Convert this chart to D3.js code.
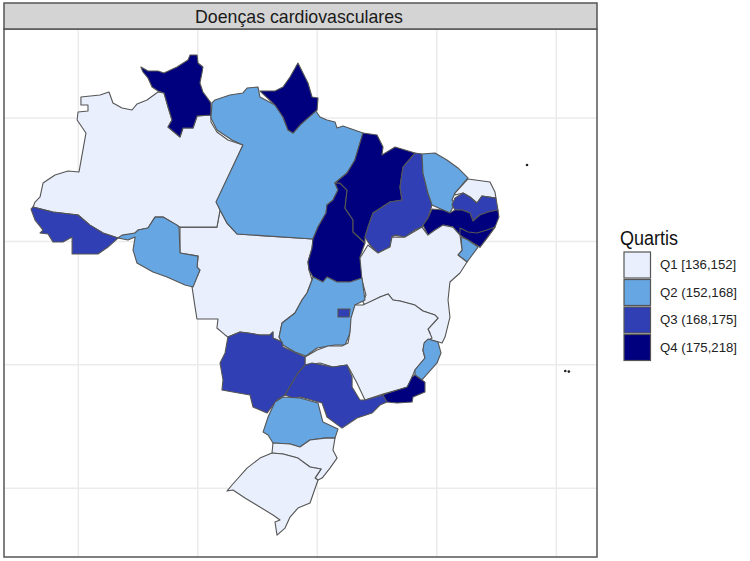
<!DOCTYPE html>
<html>
<head>
<meta charset="utf-8">
<script src="https://cdn.jsdelivr.net/npm/d3@7"></script>
<style>
  html, body { margin: 0; padding: 0; background: #fff; }
</style>
</head>
<body>
<div id="my_dataviz"></div>
<script>
// Quartile classes
var quartileLabels = ["Q1 [136,152]", "Q2 (152,168]", "Q3 (168,175]", "Q4 (175,218]"];
var quartileColors = ["#e9effc", "#66a6e2", "#303fb4", "#00007e"];

// Graticule
var lonTicks = [-70, -60, -50, -40, -30];
var latTicks = [0, -10, -20, -30];

// State outlines as [lon, lat]
var AM = [[-69.78,1.70],[-68.18,1.86],[-67.43,2.11],[-67.10,1.22],[-66.34,0.81],[-65.50,0.65],[-65.08,1.14],[-64.25,1.46],[-63.33,2.11],[-62.83,2.03],[-62.49,0.89],[-62.16,-0.16],[-62.49,-0.73],[-61.49,-1.54],[-61.24,-0.81],[-60.40,-0.81],[-60.06,0.16],[-58.90,0.24],[-58.90,-0.32],[-58.40,-1.13],[-57.48,-1.78],[-56.22,-2.19],[-58.40,-6.81],[-58.14,-7.46],[-58.40,-8.84],[-61.49,-8.84],[-61.74,-8.68],[-62.91,-8.03],[-63.58,-8.03],[-64.17,-8.92],[-65.00,-9.08],[-65.25,-9.32],[-66.51,-9.65],[-66.68,-9.73],[-67.93,-9.32],[-69.02,-8.68],[-70.02,-7.86],[-72.12,-7.62],[-73.79,-7.21],[-73.62,-6.81],[-73.20,-6.40],[-72.95,-5.27],[-71.95,-4.62],[-70.86,-4.29],[-69.94,-4.37],[-69.36,-1.22],[-70.10,-0.16],[-70.02,0.49],[-69.19,0.57],[-69.19,1.05],[-69.78,1.05]];
var RR = [[-64.76,4.13],[-64.17,3.81],[-63.33,3.81],[-62.83,3.65],[-61.74,4.13],[-60.82,4.70],[-60.65,5.10],[-60.06,5.10],[-59.98,4.46],[-59.57,4.13],[-59.65,3.65],[-59.82,2.84],[-59.57,2.11],[-58.90,1.22],[-58.90,0.24],[-60.06,0.16],[-60.40,-0.81],[-61.24,-0.81],[-61.49,-1.54],[-62.49,-0.73],[-62.16,-0.16],[-62.49,0.89],[-62.83,2.03],[-63.33,2.19],[-63.83,2.51],[-64.17,3.24],[-64.59,3.73]];
var AC = [[-73.96,-7.38],[-73.79,-7.21],[-72.12,-7.62],[-70.02,-7.86],[-69.02,-8.68],[-67.93,-9.32],[-66.68,-9.73],[-67.51,-10.46],[-68.35,-11.02],[-70.52,-11.02],[-70.52,-9.65],[-71.28,-10.05],[-72.12,-10.05],[-72.53,-9.40],[-73.20,-9.32],[-72.95,-9.08],[-73.62,-8.27]];
var RO = [[-66.68,-9.73],[-66.34,-9.49],[-65.25,-9.32],[-65.00,-9.08],[-64.17,-8.92],[-63.58,-8.03],[-62.91,-8.03],[-61.74,-8.68],[-61.57,-8.84],[-61.49,-10.94],[-59.98,-11.19],[-60.06,-12.08],[-59.82,-12.32],[-60.40,-13.70],[-61.07,-13.54],[-62.58,-12.89],[-63.75,-12.48],[-65.09,-11.75],[-65.42,-10.70],[-65.25,-9.65],[-65.84,-9.89]];
var PA = [[-58.81,1.22],[-58.56,1.46],[-57.31,1.86],[-56.22,2.03],[-55.88,2.43],[-54.96,2.51],[-54.80,1.70],[-53.54,1.05],[-52.87,0.08],[-52.45,-0.97],[-52.03,-1.22],[-51.45,-0.57],[-50.19,0.65],[-49.77,0.08],[-49.19,-0.16],[-48.52,-0.32],[-48.35,-0.81],[-47.85,-0.65],[-46.18,-1.22],[-46.85,-3.40],[-47.51,-4.46],[-48.52,-5.27],[-48.27,-5.84],[-48.69,-6.65],[-49.19,-7.05],[-49.27,-7.70],[-49.94,-8.84],[-50.36,-9.81],[-56.72,-9.40],[-57.56,-8.51],[-58.14,-7.46],[-58.48,-6.81],[-56.22,-2.19],[-57.14,-1.78],[-58.40,-0.97],[-58.90,0]];
var AP = [[-54.80,2.19],[-53.54,2.19],[-52.87,2.51],[-52.28,3.32],[-51.62,4.46],[-51.20,3.65],[-50.78,2.84],[-50.44,1.70],[-49.94,1.62],[-50.02,0.65],[-51.45,-0.57],[-52.03,-1.22],[-52.45,-0.97],[-52.87,0.08],[-53.54,1.05]];
var MA = [[-46.18,-1.22],[-45.00,-1.38],[-44.50,-2.35],[-44.59,-3.00],[-43.49,-2.35],[-41.83,-2.84],[-42.83,-3.97],[-43.08,-5.60],[-42.91,-6.65],[-43.92,-6.81],[-45.34,-7.70],[-45.76,-8.84],[-46.01,-9.65],[-46.01,-10.13],[-47.01,-9.24],[-47.01,-8.27],[-47.68,-7.30],[-47.51,-5.84],[-48.10,-5.27],[-48.52,-5.27],[-47.51,-4.46],[-46.85,-3.40]];
var TO = [[-48.52,-5.27],[-48.10,-5.27],[-47.51,-5.84],[-47.68,-7.30],[-47.01,-8.27],[-47.01,-9.24],[-46.01,-10.13],[-46.43,-11.27],[-46.18,-12.32],[-46.26,-12.97],[-47.26,-13.29],[-48.35,-13.29],[-49.19,-12.89],[-49.53,-13.29],[-50.36,-12.89],[-50.69,-12.32],[-50.78,-11.67],[-50.44,-10.54],[-50.36,-9.81],[-49.94,-8.84],[-49.27,-7.70],[-49.19,-7.05],[-48.69,-6.65],[-48.27,-5.84]];
var PI = [[-41.83,-2.84],[-41.24,-2.92],[-41.16,-4.46],[-40.74,-6.08],[-40.40,-7.05],[-40.74,-8.11],[-41.24,-8.84],[-41.83,-9.08],[-42.66,-9.65],[-43.50,-9.49],[-43.75,-9.65],[-43.92,-10.46],[-44.92,-10.94],[-45.59,-10.29],[-46.01,-9.65],[-45.76,-8.84],[-45.34,-7.70],[-43.92,-6.81],[-42.91,-6.65],[-43.08,-5.60],[-42.83,-3.97]];
var CE = [[-41.24,-2.92],[-40.15,-2.84],[-39.15,-3.40],[-38.23,-4.05],[-37.39,-4.86],[-38.48,-6.08],[-38.73,-6.65],[-38.48,-6.89],[-38.90,-7.70],[-39.48,-7.46],[-40.40,-7.05],[-40.74,-6.08],[-41.16,-4.46]];
var RN = [[-37.39,-4.94],[-35.55,-5.19],[-35.13,-6.00],[-35.05,-6.49],[-36.22,-6.32],[-36.64,-6.89],[-37.22,-6.40],[-37.80,-6.08],[-38.48,-6.24],[-38.48,-6.08]];
var PB = [[-38.48,-6.49],[-37.80,-6.08],[-37.22,-6.40],[-36.64,-6.89],[-36.22,-6.32],[-35.05,-6.49],[-34.88,-7.46],[-35.72,-7.62],[-36.39,-7.86],[-36.97,-8.35],[-37.22,-7.70],[-37.89,-7.46],[-38.48,-7.46],[-38.73,-7.05]];
var PE = [[-40.40,-7.38],[-39.48,-7.46],[-38.90,-7.70],[-38.48,-7.46],[-37.89,-7.46],[-37.22,-7.70],[-36.97,-8.35],[-36.39,-7.86],[-35.72,-7.62],[-34.88,-7.46],[-34.80,-8.03],[-35.13,-8.84],[-35.81,-9.73],[-36.39,-10.46],[-37.39,-9.89],[-38.06,-9.49],[-38.65,-8.84],[-39.48,-8.68],[-40.15,-9.08],[-40.74,-9.49],[-41.16,-8.68],[-40.74,-8.11]];
var AL = [[-38.06,-8.92],[-37.39,-9.24],[-36.64,-9.32],[-35.81,-9.08],[-35.13,-8.84],[-35.81,-9.73],[-36.39,-10.46],[-37.39,-9.89],[-38.06,-9.49]];
var SE = [[-37.97,-9.65],[-37.39,-9.89],[-36.55,-10.46],[-37.47,-11.67],[-38.23,-11.10],[-37.89,-10.70]];
var BA = [[-46.43,-11.35],[-45.76,-10.29],[-44.92,-10.94],[-43.92,-10.46],[-43.75,-9.65],[-42.66,-9.65],[-41.24,-8.84],[-40.74,-9.49],[-40.15,-9.08],[-39.48,-8.68],[-38.65,-8.84],[-38.06,-9.49],[-37.89,-10.70],[-38.23,-11.10],[-37.47,-11.67],[-38.06,-12.56],[-38.90,-13.29],[-39.06,-14.75],[-38.90,-16.13],[-39.31,-17.75],[-39.56,-18.24],[-40.74,-17.91],[-40.57,-17.42],[-40.74,-17.10],[-39.90,-16.21],[-40.15,-15.97],[-41.16,-15.64],[-41.83,-15.16],[-43.08,-14.83],[-43.67,-14.75],[-44.08,-14.26],[-44.75,-14.51],[-46.01,-15.16],[-46.18,-14.91],[-45.93,-14.34],[-46.26,-13.13]];
var GO = [[-50.36,-12.89],[-49.53,-13.29],[-49.19,-12.89],[-48.35,-13.29],[-47.26,-13.29],[-46.26,-12.97],[-46.01,-14.75],[-46.85,-15.16],[-47.09,-16.21],[-47.26,-17.42],[-47.68,-18.40],[-48.52,-18.40],[-50.02,-18.64],[-50.95,-19.29],[-51.87,-18.97],[-52.87,-18.40],[-53.20,-17.75],[-52.95,-16.61],[-51.87,-15.80],[-51.28,-14.75],[-50.86,-14.18],[-50.44,-13.13]];
var DF = [[-48.27,-15.48],[-47.26,-15.48],[-47.34,-16.13],[-48.27,-16.13]];
var MG = [[-51.03,-19.37],[-50.02,-18.80],[-49.10,-18.48],[-47.93,-18.48],[-47.43,-18.24],[-47.26,-17.34],[-47.18,-16.21],[-46.85,-15.16],[-46.18,-15.16],[-44.75,-14.51],[-44.08,-14.26],[-43.67,-14.75],[-43.08,-14.83],[-41.83,-15.16],[-41.16,-15.64],[-40.15,-15.97],[-39.90,-16.21],[-40.74,-17.10],[-40.40,-17.83],[-40.99,-18.16],[-41.16,-18.80],[-40.99,-19.45],[-41.83,-20.42],[-42.07,-20.99],[-42.41,-21.80],[-44.50,-22.37],[-46.01,-22.85],[-46.68,-21.47],[-47.26,-20.42],[-47.51,-20.02],[-48.69,-20.18],[-49.77,-19.85],[-51.03,-20.02]];
var ES = [[-40.74,-17.91],[-39.90,-18.16],[-39.65,-19.04],[-39.98,-19.85],[-40.74,-20.67],[-41.24,-21.23],[-41.83,-20.83],[-41.83,-20.42],[-40.99,-19.45],[-41.16,-18.80],[-41.07,-18.24]];
var RJ = [[-41.83,-20.83],[-41.24,-21.23],[-40.99,-21.40],[-40.99,-22.21],[-41.99,-22.61],[-42.07,-23.02],[-43.33,-23.10],[-44.17,-23.02],[-44.58,-22.45],[-42.49,-21.80],[-42.07,-20.99]];
var SP = [[-51.03,-20.02],[-50.44,-19.85],[-48.69,-20.18],[-47.51,-20.02],[-47.09,-20.99],[-47.09,-21.80],[-46.43,-22.85],[-46.01,-22.85],[-44.50,-22.45],[-44.17,-23.02],[-44.75,-23.26],[-45.42,-23.91],[-46.68,-24.31],[-47.93,-25.13],[-49.19,-24.23],[-49.60,-23.10],[-50.78,-22.77],[-51.45,-22.61],[-52.03,-22.69],[-52.70,-22.45],[-51.62,-20.67]];
var MS = [[-57.48,-17.75],[-56.47,-17.34],[-55.80,-17.42],[-54.80,-17.58],[-53.96,-17.58],[-53.71,-17.34],[-53.71,-17.83],[-52.95,-18.16],[-52.87,-18.56],[-51.03,-19.37],[-51.03,-20.02],[-51.62,-20.67],[-52.70,-22.45],[-53.37,-22.85],[-54.21,-23.91],[-55.38,-23.42],[-55.63,-22.45],[-57.06,-22.21],[-57.98,-22.04],[-57.89,-21.23],[-58.14,-19.85],[-57.72,-19.04]];
var MT = [[-61.49,-8.84],[-58.40,-8.84],[-58.14,-7.46],[-57.56,-8.51],[-56.72,-9.40],[-50.36,-9.81],[-50.44,-10.54],[-50.78,-11.67],[-50.69,-12.32],[-50.44,-13.13],[-50.86,-14.18],[-51.28,-14.75],[-51.87,-15.80],[-52.95,-16.61],[-53.20,-17.75],[-52.95,-18.16],[-53.71,-17.83],[-53.71,-17.34],[-53.96,-17.58],[-54.80,-17.58],[-55.80,-17.42],[-56.47,-17.34],[-57.48,-17.75],[-57.72,-17.58],[-58.40,-17.02],[-58.31,-16.29],[-60.07,-16.29],[-60.23,-15.32],[-60.48,-13.70],[-59.82,-12.32],[-60.06,-12.08],[-59.98,-11.19],[-61.49,-10.94]];
var PR = [[-54.12,-24.23],[-53.54,-23.02],[-52.87,-22.61],[-51.45,-22.69],[-49.94,-23.10],[-49.53,-24.64],[-48.27,-25.21],[-48.52,-25.94],[-49.36,-25.94],[-50.61,-26.10],[-51.45,-26.66],[-52.28,-26.42],[-53.71,-26.34],[-54.12,-25.69],[-54.54,-25.45]];
var SC = [[-53.71,-26.34],[-52.28,-26.42],[-51.45,-26.66],[-50.61,-26.10],[-49.36,-25.94],[-48.52,-25.94],[-48.69,-26.91],[-48.35,-27.56],[-48.94,-28.37],[-49.60,-29.18],[-49.94,-29.34],[-50.19,-29.18],[-49.69,-28.45],[-50.61,-28.28],[-51.62,-27.56],[-52.87,-27.23],[-53.79,-27.15]];
var RS = [[-53.79,-27.15],[-52.87,-27.23],[-51.62,-27.56],[-50.61,-28.28],[-49.69,-28.45],[-50.19,-29.18],[-49.94,-29.34],[-50.61,-31.20],[-51.62,-31.61],[-52.28,-32.34],[-52.70,-33.23],[-53.37,-33.80],[-53.54,-32.74],[-53.12,-32.58],[-53.71,-32.17],[-55.22,-31.28],[-56.05,-30.80],[-57.06,-30.15],[-57.56,-30.23],[-57.14,-29.74],[-55.88,-28.37],[-54.80,-27.56]];

var stateOutlines = [MT, AM, RR, AC, RO, PA, AP, TO, MA, PI, CE, RN, PB, PE, AL, SE, BA, GO, MG, DF, ES, RJ, MS, SP, PR, SC, RS];
var stateQuartile = [0, 0, 3, 2, 1, 1, 3, 3, 3, 2, 1, 0, 2, 3, 3, 1, 0, 1, 0, 2, 1, 3, 2, 2, 1, 0, 0];

// Small ocean islands
var islands = [[-32.45, -3.81], [-29.25, -20.50], [-28.95, -20.55]];

var width = 750, height = 561;
var panel = {left: 4, right: 597, top: 29, bottom: 557};

var svg = d3.select("#my_dataviz")
  .append("svg")
    .attr("width", width)
    .attr("height", height)
    .style("display", "block");

// Panel-to-map scales, fixed on the graticule lines
var x = d3.scaleLinear().domain([-70, -30]).range([78.3, 556.3]);
var y = d3.scaleLinear().domain([0, -30]).range([118, 488.2]);

// Panel background and grid
svg.append("rect")
    .attr("x", panel.left).attr("y", panel.top)
    .attr("width", panel.right - panel.left).attr("height", panel.bottom - panel.top)
    .attr("fill", "#fff");

svg.selectAll(".lon").data(lonTicks).enter().append("line")
    .attr("x1", d => x(d)).attr("x2", d => x(d))
    .attr("y1", panel.top).attr("y2", panel.bottom)
    .attr("stroke", "#ebebeb").attr("stroke-width", 1.5);

svg.selectAll(".lat").data(latTicks).enter().append("line")
    .attr("x1", panel.left).attr("x2", panel.right)
    .attr("y1", d => y(d)).attr("y2", d => y(d))
    .attr("stroke", "#ebebeb").attr("stroke-width", 1.5);

// States
var line = d3.line()
    .x(d => x(d[0]))
    .y(d => y(d[1]))
    .curve(d3.curveLinearClosed);

svg.selectAll(".state").data(stateOutlines).enter().append("path")
    .attr("class", "state")
    .attr("d", line)
    .attr("fill", (d, i) => quartileColors[stateQuartile[i]])
    .attr("stroke", "#555")
    .attr("stroke-width", 1.1)
    .attr("stroke-linejoin", "round");

svg.selectAll(".island").data(islands).enter().append("circle")
    .attr("cx", d => x(d[0]))
    .attr("cy", d => y(d[1]))
    .attr("r", 1.3)
    .attr("fill", "#222");

// Panel border and title strip
svg.append("rect")
    .attr("x", panel.left).attr("y", panel.top)
    .attr("width", panel.right - panel.left).attr("height", panel.bottom - panel.top)
    .attr("fill", "none").attr("stroke", "#555").attr("stroke-width", 1.5);

svg.append("rect")
    .attr("x", panel.left).attr("y", 3)
    .attr("width", panel.right - panel.left).attr("height", panel.top - 3)
    .attr("fill", "#d4d4d4").attr("stroke", "#555").attr("stroke-width", 1.5);

svg.append("text")
    .attr("x", 195)
    .attr("y", 23)
    .attr("textLength", 208)
    .attr("lengthAdjust", "spacingAndGlyphs")
    .style("font-family", "'Liberation Sans', Arial, sans-serif")
    .style("font-size", "19px")
    .attr("fill", "#1a1a1a")
    .text("Doenças cardiovasculares");

// Legend
var legendY = d3.scaleBand().domain(quartileLabels).range([251, 361]);

svg.append("text")
    .attr("x", 620).attr("y", 245)
    .attr("textLength", 58)
    .attr("lengthAdjust", "spacingAndGlyphs")
    .style("font-family", "'Liberation Sans', Arial, sans-serif")
    .style("font-size", "20px")
    .attr("fill", "#111")
    .text("Quartis");

svg.selectAll(".key").data(quartileLabels).enter().append("rect")
    .attr("class", "key")
    .attr("x", 624)
    .attr("y", d => legendY(d) + 1)
    .attr("width", 26.5)
    .attr("height", legendY.bandwidth() - 1.5)
    .attr("fill", (d, i) => quartileColors[i])
    .attr("stroke", "#555")
    .attr("stroke-width", 1.2);

svg.selectAll(".keylabel").data(quartileLabels).enter().append("text")
    .attr("class", "keylabel")
    .attr("x", 660)
    .attr("y", d => legendY(d) + legendY.bandwidth() / 2 + 4.5)
    .style("font-family", "'Liberation Sans', Arial, sans-serif")
    .style("font-size", "13.2px")
    .attr("fill", "#222")
    .text(d => d);
</script>
</body>
</html>
